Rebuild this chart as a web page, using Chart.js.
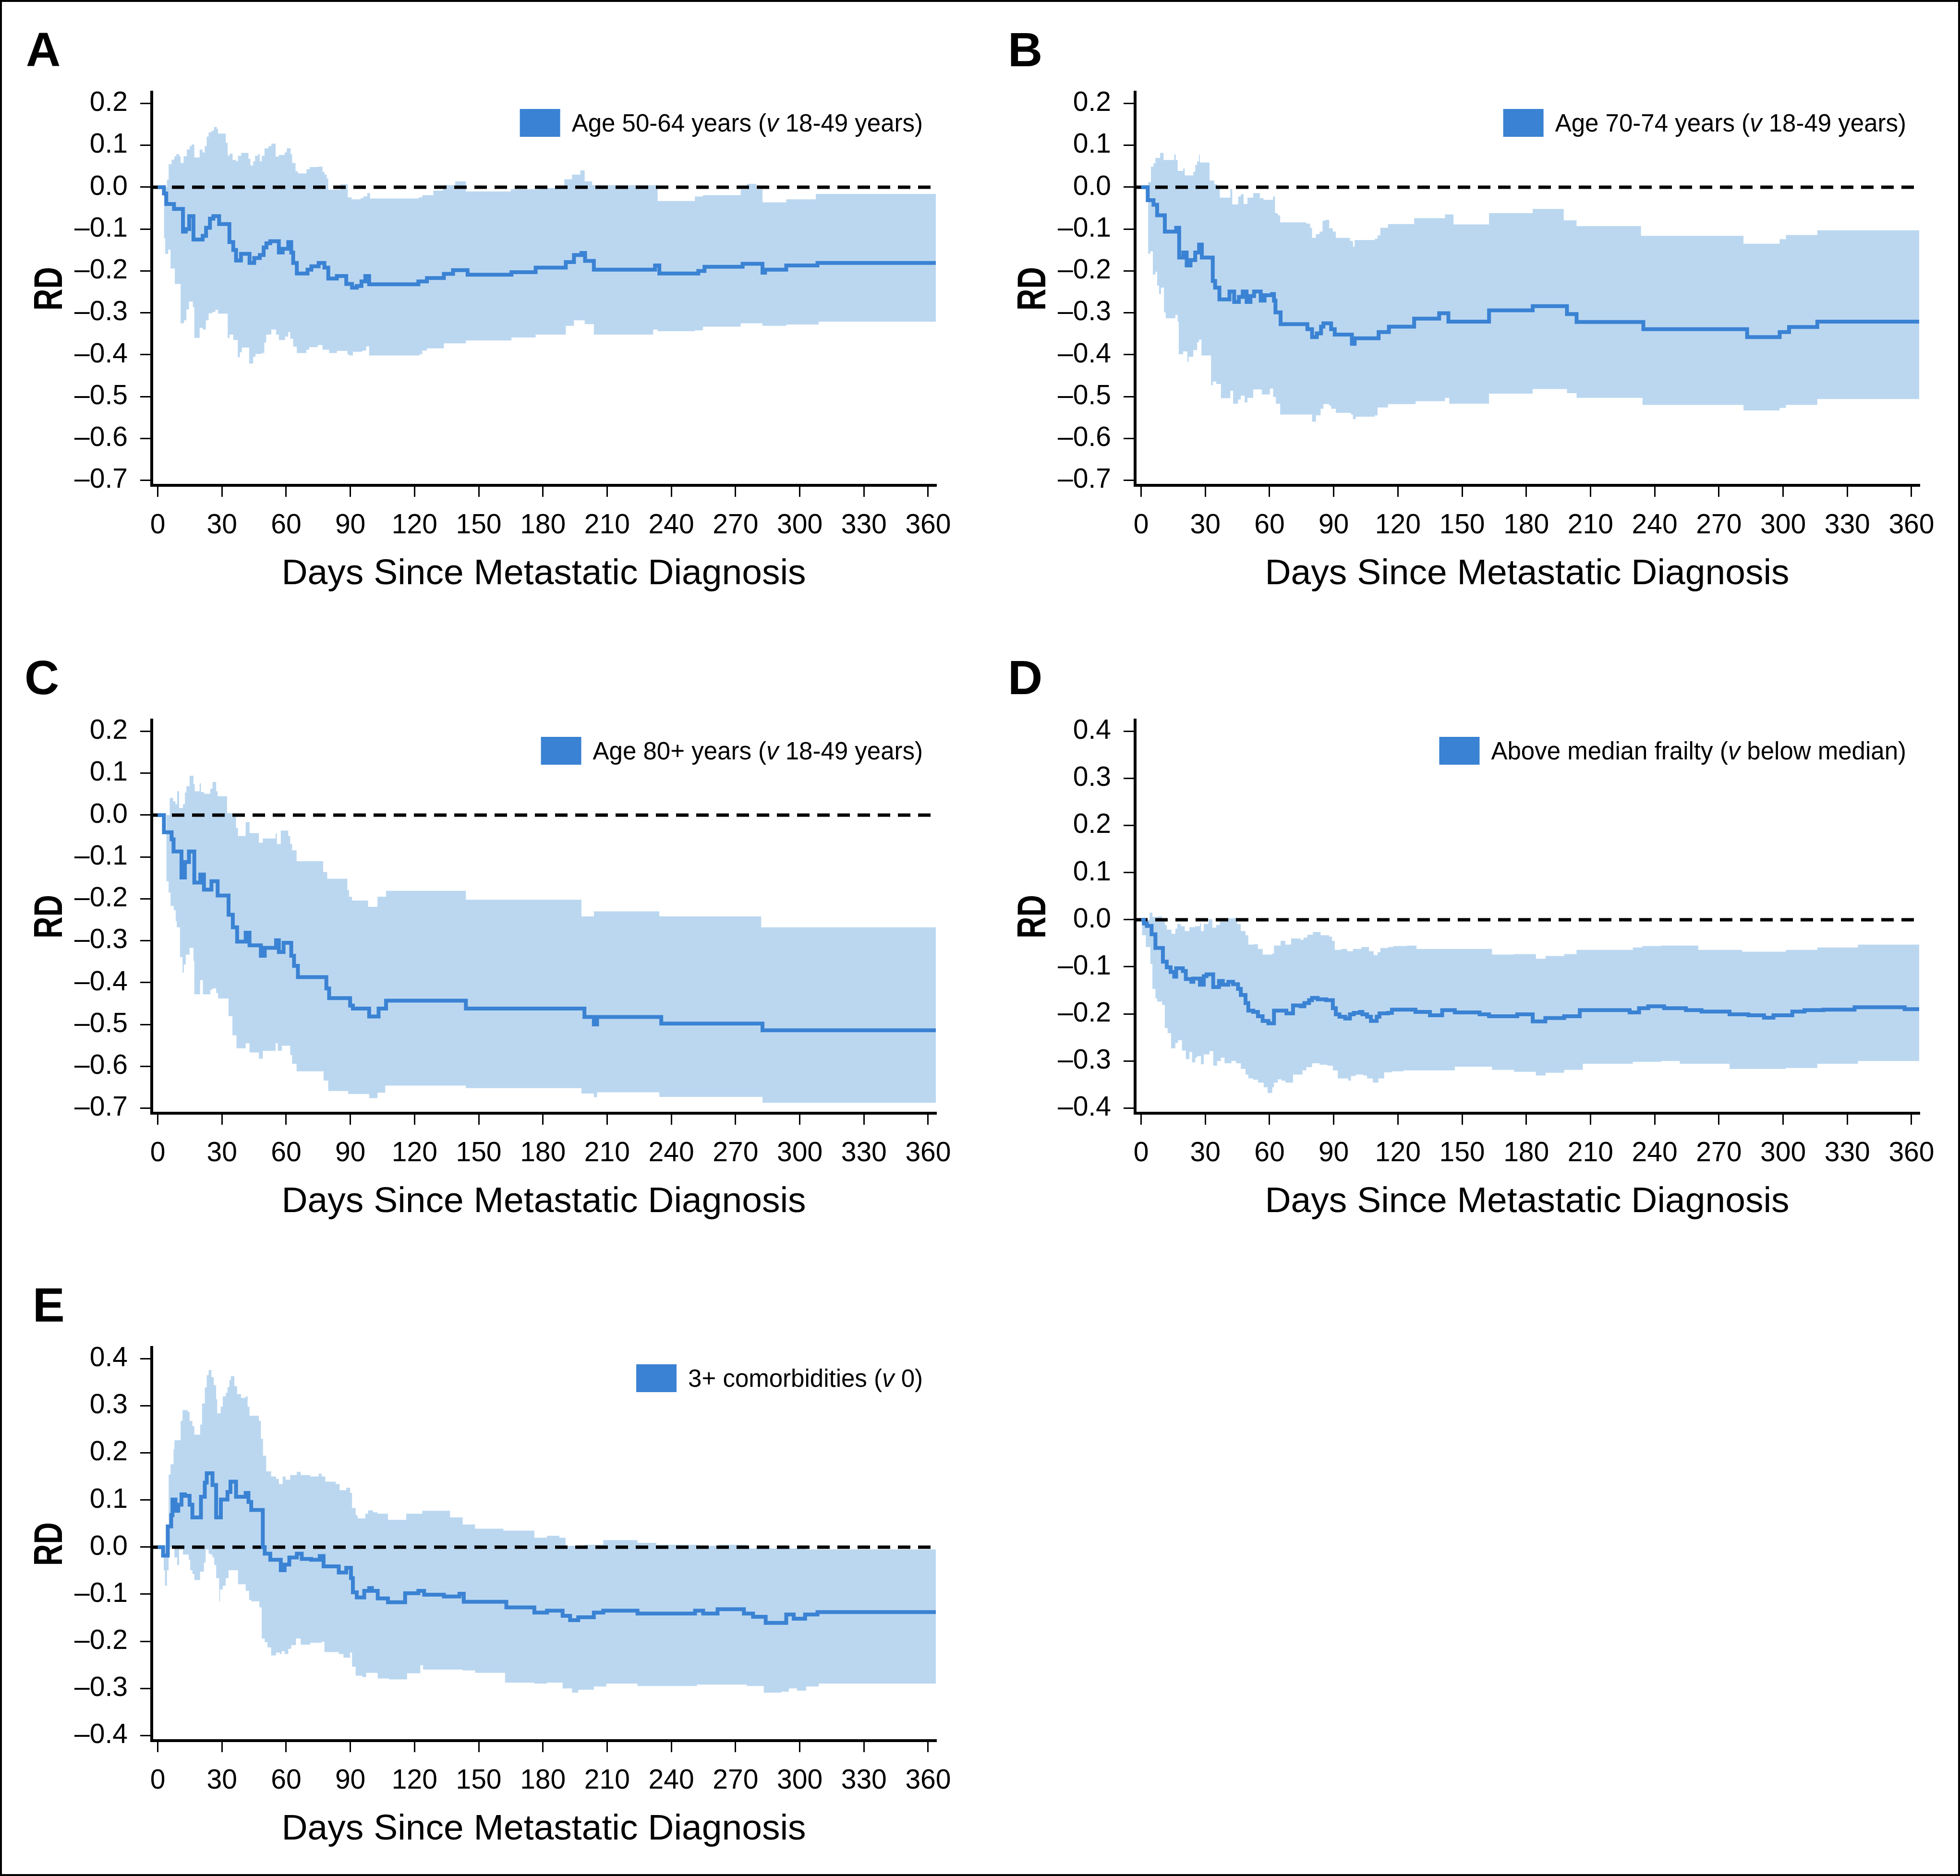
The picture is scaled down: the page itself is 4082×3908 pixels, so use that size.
<!DOCTYPE html>
<html>
<head>
<meta charset="utf-8">
<title>Risk difference over time</title>
<script src="https://cdn.jsdelivr.net/npm/chart.js@4.4.1/dist/chart.umd.min.js"></script>
<style>
html, body { margin: 0; padding: 0; background: #fff; }
#page { position: relative; width: 4082px; height: 3908px; overflow: hidden; background: #fff; }
#page canvas { position: absolute; }
#frame { position: absolute; left: 0; top: 0; width: 4082px; height: 3908px; box-sizing: border-box; border: 4px solid #000; pointer-events: none; }
</style>
</head>
<body>
<div id="page"><div id="frame"></div></div>
<script>
// axis ticks
const xTicks = [0, 30, 60, 90, 120, 150, 180, 210, 240, 270, 300, 330, 360];
const yTicksAge = [-0.7, -0.6, -0.5, -0.4, -0.3, -0.2, -0.1, 0, 0.1, 0.2];
const yTicksWide = [-0.4, -0.3, -0.2, -0.1, 0, 0.1, 0.2, 0.3, 0.4];

const legendA = "Age 50-64 years (v 18-49 years)";
const legendB = "Age 70-74 years (v 18-49 years)";
const legendC = "Age 80+ years (v 18-49 years)";
const legendD = "Above median frailty (v below median)";
const legendE = "3+ comorbidities (v 0)";

// [day, RD] - value holds from that day until the next step
const estA = [[0,0],[2.9,-0.015],[4,-0.04],[7.6,-0.052],[11.8,-0.106],[13.1,-0.1],[14.7,-0.069],[16.7,-0.125],[21,-0.116],[22.6,-0.097],[24.4,-0.075],[26,-0.069],[28.7,-0.088],[33.5,-0.131],[35.3,-0.15],[36.6,-0.175],[38.9,-0.159],[42.9,-0.181],[45.1,-0.169],[47.7,-0.162],[49.5,-0.144],[50.8,-0.134],[52.6,-0.129],[56.6,-0.156],[58.4,-0.147],[61,-0.131],[62.4,-0.156],[63.3,-0.181],[65,-0.206],[70,-0.197],[71.8,-0.189],[75.2,-0.181],[77.9,-0.192],[79.7,-0.218],[83.7,-0.212],[88.1,-0.231],[90.8,-0.24],[93,-0.236],[95.2,-0.225],[97,-0.212],[98.8,-0.232],[121.8,-0.225],[125.8,-0.217],[133.7,-0.207],[138,-0.198],[144.8,-0.209],[165.3,-0.203],[176.6,-0.192],[190.7,-0.179],[194.5,-0.162],[198,-0.157],[199.7,-0.176],[203.8,-0.197],[232.4,-0.187],[234.4,-0.206],[252.6,-0.2],[255.5,-0.19],[273.3,-0.183],[282.6,-0.204],[283.8,-0.197],[293.7,-0.187],[308.3,-0.181],[363.6,-0.181]];
const upA = [[2.9,0],[4.3,0.018],[5.1,0.055],[6.5,0.066],[7.8,0.074],[8.7,0.079],[10,0.074],[10.7,0.058],[12.1,0.074],[13.6,0.09],[14.9,0.098],[15.8,0.102],[17.1,0.071],[19.6,0.09],[20.9,0.083],[22,0.098],[22.9,0.121],[23.8,0.131],[25.1,0.135],[26.3,0.144],[27.6,0.139],[28.2,0.128],[31.8,0.106],[32.7,0.075],[33.5,0.08],[35,0.065],[36.6,0.062],[37.5,0.075],[39,0.082],[42.4,0.068],[43.3,0.052],[44.6,0.062],[45.5,0.075],[46.9,0.079],[47.7,0.062],[48.6,0.075],[49.9,0.093],[51.7,0.098],[53.1,0.104],[55.1,0.073],[56.6,0.077],[59.3,0.083],[60.3,0.093],[62.1,0.079],[62.8,0.058],[64.4,0.038],[65.5,0.033],[69.5,0.043],[71,0.048],[74.8,0.049],[77,0.037],[77.9,0.03],[79,0.021],[79.7,-0.006],[85.4,0.007],[88.8,-0.024],[90.6,-0.029],[94.8,-0.026],[96.1,-0.022],[97.9,-0.014],[99.2,-0.027],[122,-0.024],[123.6,-0.019],[128.8,-0.008],[133.3,0.005],[139,0.014],[144,-0.01],[165,-0.005],[178.5,-0.002],[190,0.019],[193.6,0.03],[197.5,0.04],[199.5,0.014],[203,0.005],[233.6,-0.033],[251,-0.022],[254.8,-0.019],[272.4,-0.005],[275.3,0.008],[279.7,-0.005],[282.6,-0.036],[293.7,-0.029],[307.5,-0.016],[363.6,-0.016]];
const loA = [[2.2,-0.122],[3.5,-0.159],[4.9,-0.149],[6,-0.194],[8,-0.231],[10.7,-0.325],[12.3,-0.318],[13.4,-0.292],[14.6,-0.273],[16.4,-0.286],[17.1,-0.36],[19.6,-0.336],[21.1,-0.34],[22.5,-0.318],[23.8,-0.301],[25.6,-0.298],[26.9,-0.293],[28.2,-0.302],[32.7,-0.36],[33.5,-0.352],[35.3,-0.365],[37.4,-0.406],[38.4,-0.394],[39.3,-0.383],[42.7,-0.421],[44.6,-0.405],[45.7,-0.398],[48.6,-0.396],[49.8,-0.371],[50.7,-0.352],[53.1,-0.34],[55.3,-0.352],[56.6,-0.365],[59.5,-0.357],[61,-0.346],[61.9,-0.362],[63.3,-0.381],[65,-0.396],[69.5,-0.388],[70.8,-0.382],[74.8,-0.377],[77,-0.388],[80.1,-0.396],[83.7,-0.391],[88.6,-0.399],[89.4,-0.402],[91.2,-0.393],[95.6,-0.39],[97.4,-0.38],[98.8,-0.402],[122.3,-0.399],[123.6,-0.39],[125.8,-0.385],[133.7,-0.373],[144,-0.366],[165.3,-0.359],[176.6,-0.352],[190.7,-0.331],[194.5,-0.318],[199.5,-0.327],[203.8,-0.352],[231.5,-0.34],[233.6,-0.344],[251,-0.342],[254.8,-0.333],[272.4,-0.325],[282.6,-0.331],[293.7,-0.328],[308.9,-0.321],[363.6,-0.321]];

const estB = [[0,0],[3.1,-0.031],[5.8,-0.042],[7.5,-0.067],[11.1,-0.106],[16.4,-0.097],[17.8,-0.168],[19.7,-0.156],[21.3,-0.187],[23.1,-0.174],[25.3,-0.156],[27.1,-0.137],[28.4,-0.168],[33.5,-0.224],[34.6,-0.24],[36.6,-0.268],[41.3,-0.249],[43.5,-0.274],[45.7,-0.262],[47.5,-0.249],[49.3,-0.274],[51.1,-0.26],[52.8,-0.249],[55.9,-0.271],[57.7,-0.258],[61.2,-0.255],[62.1,-0.271],[62.8,-0.299],[65.2,-0.327],[77.7,-0.339],[79.9,-0.358],[82.1,-0.349],[84.1,-0.333],[85.2,-0.325],[88.8,-0.339],[90.5,-0.352],[98.5,-0.374],[99.8,-0.361],[111,-0.346],[115.8,-0.333],[127.6,-0.314],[139.3,-0.301],[143.6,-0.321],[162.6,-0.294],[183,-0.284],[199,-0.303],[203.5,-0.322],[234.7,-0.339],[283.2,-0.358],[298.4,-0.346],[302.8,-0.334],[316,-0.321],[363.6,-0.321]];
const upB = [[3.1,0.012],[4.6,0.049],[5.8,0.057],[6.7,0.07],[8.9,0.082],[10.5,0.065],[15.5,0.078],[16.2,0.065],[17.1,0.039],[19.7,0.045],[20.4,0.028],[24.4,0.037],[25.3,0.053],[26.2,0.062],[27.1,0.078],[27.5,0.059],[32,0.016],[34.2,0.007],[35.5,0],[36.8,-0.025],[41.7,-0.005],[42.6,-0.041],[45.4,-0.022],[46.6,-0.017],[47.9,-0.04],[49.7,-0.025],[52.4,-0.014],[55.5,-0.026],[57.2,-0.03],[61.7,-0.022],[62.6,-0.062],[63.9,-0.067],[65,-0.084],[77.2,-0.087],[79,-0.097],[79.9,-0.121],[81.7,-0.112],[83.4,-0.106],[84.8,-0.08],[86.1,-0.078],[87.9,-0.098],[89.6,-0.106],[91,-0.121],[97.6,-0.128],[99,-0.142],[99.8,-0.126],[109.2,-0.123],[110.5,-0.115],[111.8,-0.097],[115.4,-0.088],[127.6,-0.074],[142,-0.065],[146,-0.089],[162.6,-0.062],[183,-0.052],[197.5,-0.079],[203.5,-0.093],[233.6,-0.116],[281.5,-0.135],[298.4,-0.124],[301.3,-0.114],[316,-0.103],[363.6,-0.103]];
const loB = [[3.3,-0.159],[4.3,-0.153],[5.5,-0.209],[6.7,-0.202],[7.5,-0.235],[8.4,-0.255],[9.3,-0.24],[10.7,-0.299],[11.5,-0.313],[16,-0.305],[17.1,-0.321],[17.6,-0.399],[19.6,-0.392],[21.6,-0.417],[22.2,-0.405],[24.4,-0.389],[26.2,-0.37],[27.1,-0.364],[28.2,-0.402],[32.7,-0.473],[33.5,-0.464],[35.1,-0.47],[37.3,-0.504],[41.7,-0.486],[43,-0.517],[45.3,-0.507],[46.6,-0.498],[48.4,-0.514],[49.7,-0.503],[52.4,-0.483],[56.4,-0.495],[60.2,-0.481],[61.7,-0.501],[63,-0.517],[65,-0.543],[79.9,-0.56],[81.7,-0.545],[83.9,-0.529],[85.2,-0.518],[87.9,-0.522],[88.8,-0.529],[91,-0.539],[98.1,-0.543],[99,-0.554],[100.3,-0.548],[109.2,-0.545],[110.5,-0.526],[115.4,-0.518],[128.3,-0.511],[142,-0.503],[144,-0.517],[162.6,-0.493],[183,-0.482],[199,-0.492],[203.5,-0.503],[234.3,-0.52],[281.5,-0.533],[298.4,-0.527],[301.3,-0.52],[316,-0.506],[363.6,-0.506]];

const estC = [[0,0],[2.9,-0.041],[6.5,-0.058],[7.4,-0.087],[11.1,-0.149],[12.7,-0.112],[14.6,-0.087],[17.1,-0.161],[19.9,-0.142],[21.6,-0.178],[25.1,-0.158],[28,-0.192],[33.1,-0.238],[35.1,-0.268],[37.1,-0.302],[41.1,-0.281],[42.9,-0.311],[48.2,-0.336],[50,-0.317],[55.3,-0.299],[56.6,-0.327],[58.8,-0.305],[62.4,-0.336],[63.7,-0.36],[65.5,-0.387],[78.8,-0.414],[80.1,-0.437],[89.9,-0.455],[91.2,-0.462],[98.8,-0.481],[103.2,-0.462],[106.7,-0.443],[144,-0.462],[199.4,-0.482],[203.8,-0.5],[205.3,-0.482],[235.3,-0.498],[282.6,-0.514],[363.6,-0.514]];
const upC = [[4,0],[5.6,0.041],[7.2,0.033],[8.3,0.026],[9.1,0.057],[10,0.017],[11.8,0.026],[12.7,0.054],[13.4,0.069],[14.9,0.094],[16.7,0.074],[17.3,0.057],[19.6,0.076],[20.2,0.055],[21.6,0.051],[24.6,0.063],[25.6,0.079],[27.3,0.057],[28,0.045],[32.4,0.005],[34.9,-0.004],[36.6,-0.031],[37.5,-0.05],[41.1,-0.017],[42.9,-0.043],[47.3,-0.066],[49.1,-0.056],[55.1,-0.044],[55.7,-0.069],[57.5,-0.037],[61,-0.05],[61.9,-0.069],[62.8,-0.084],[64.9,-0.11],[77.3,-0.136],[79.2,-0.152],[88.6,-0.179],[89.4,-0.195],[90.8,-0.204],[98.3,-0.219],[102.7,-0.195],[106.7,-0.181],[144,-0.202],[198,-0.242],[203.8,-0.23],[234.4,-0.242],[282,-0.268],[363.6,-0.268]];
const loC = [[4,-0.158],[5.1,-0.185],[6,-0.217],[7.5,-0.227],[8.4,-0.253],[8.9,-0.268],[10.4,-0.339],[11.6,-0.376],[12.2,-0.357],[13.1,-0.333],[14.9,-0.317],[16.7,-0.348],[17.1,-0.428],[19.8,-0.394],[21.1,-0.428],[24.6,-0.417],[25.6,-0.414],[27.3,-0.425],[28.2,-0.438],[33.1,-0.48],[34.9,-0.526],[36.8,-0.557],[41.1,-0.545],[42.9,-0.567],[47.3,-0.582],[49.1,-0.563],[55.1,-0.545],[56.1,-0.563],[58,-0.551],[61.9,-0.573],[62.8,-0.594],[64.9,-0.612],[77.5,-0.634],[79.7,-0.659],[89,-0.666],[98.8,-0.676],[102.7,-0.663],[106.3,-0.646],[144,-0.652],[198,-0.665],[203.8,-0.674],[205.3,-0.662],[234.4,-0.673],[282.6,-0.687],[363.6,-0.687]];

const estD = [[0,0],[1.3,-0.008],[2.7,-0.013],[4.9,-0.031],[6.7,-0.06],[10.2,-0.089],[12,-0.101],[13.8,-0.111],[15.5,-0.121],[16.4,-0.103],[19.5,-0.109],[20.9,-0.126],[23.5,-0.132],[24.4,-0.125],[27.5,-0.138],[29.3,-0.12],[30.6,-0.116],[33.7,-0.143],[36.4,-0.13],[38.2,-0.138],[40.8,-0.132],[43,-0.137],[45.3,-0.147],[46.6,-0.16],[48.8,-0.177],[50.1,-0.193],[52.4,-0.196],[54.6,-0.205],[56.8,-0.215],[59.5,-0.22],[62.1,-0.193],[67.9,-0.199],[71,-0.182],[74.5,-0.184],[76.3,-0.177],[78.5,-0.171],[79.9,-0.166],[82.5,-0.169],[86.5,-0.171],[89.6,-0.188],[91,-0.201],[92.7,-0.206],[95.4,-0.21],[97.6,-0.201],[99.4,-0.198],[102.3,-0.196],[103.4,-0.201],[105.6,-0.206],[107.4,-0.215],[110.1,-0.206],[111.4,-0.199],[115.4,-0.198],[117.2,-0.191],[128.2,-0.196],[135,-0.203],[140.7,-0.192],[146.6,-0.197],[158.2,-0.201],[162.6,-0.205],[175.8,-0.201],[183,-0.216],[188.9,-0.209],[197.7,-0.205],[205,-0.192],[228.3,-0.197],[232.7,-0.188],[237,-0.184],[244.4,-0.188],[254.6,-0.192],[261.9,-0.195],[275,-0.201],[283.8,-0.203],[291.1,-0.208],[295.5,-0.203],[304.3,-0.195],[310,-0.192],[318.8,-0.191],[333.4,-0.186],[356.8,-0.19],[363.6,-0.19]];
const upD = [[0.4,0],[4,0.015],[5.3,0.006],[8,0.007],[9.8,-0.002],[11.1,-0.011],[12,-0.021],[14.2,-0.03],[16,-0.019],[16.9,-0.009],[18.6,-0.014],[20.4,-0.024],[22.6,-0.016],[25.3,-0.014],[27.5,-0.007],[28,-0.024],[29.3,-0.009],[31.5,0.001],[33.3,-0.017],[35.1,-0.011],[36.8,-0.004],[40.4,0.003],[43.5,0.004],[44.8,-0.009],[46.6,-0.024],[48.8,-0.033],[50.1,-0.053],[52.4,-0.052],[54.6,-0.062],[56.8,-0.074],[61.2,-0.072],[62.1,-0.055],[65.2,-0.045],[67.4,-0.053],[70.1,-0.04],[74.5,-0.043],[75.9,-0.038],[77.7,-0.032],[80.3,-0.026],[83.9,-0.033],[87.9,-0.036],[89.2,-0.045],[90.5,-0.064],[93.6,-0.062],[96.3,-0.067],[99,-0.062],[103,-0.058],[106.5,-0.067],[108.7,-0.075],[110.5,-0.069],[111.8,-0.06],[115.4,-0.058],[118,-0.056],[124.3,-0.055],[128.7,-0.062],[164,-0.074],[174.3,-0.073],[184.5,-0.083],[189,-0.077],[197.7,-0.073],[203.5,-0.064],[229.8,-0.059],[234.2,-0.056],[243,-0.055],[260.4,-0.064],[280.9,-0.068],[301.3,-0.064],[316,-0.059],[335,-0.053],[363.6,-0.056]];
const loD = [[0.4,-0.033],[2.2,-0.058],[4.3,-0.094],[5.3,-0.147],[6.7,-0.167],[7.5,-0.174],[9.8,-0.181],[11.1,-0.23],[12.4,-0.241],[14,-0.273],[16,-0.262],[17.3,-0.256],[19.1,-0.278],[20.9,-0.296],[22.6,-0.281],[23.8,-0.303],[25.3,-0.293],[26.2,-0.29],[28,-0.307],[29.3,-0.286],[32,-0.279],[33.7,-0.31],[35.5,-0.3],[37.3,-0.293],[39,-0.305],[42.2,-0.3],[44.4,-0.305],[46.6,-0.317],[48.8,-0.329],[50.1,-0.337],[52.4,-0.34],[54.6,-0.346],[57.3,-0.356],[59.1,-0.368],[61.3,-0.356],[62.1,-0.346],[63.9,-0.339],[65.7,-0.342],[67.4,-0.346],[71,-0.329],[75.4,-0.32],[77.2,-0.313],[79.9,-0.305],[83.4,-0.308],[87,-0.31],[89.6,-0.32],[91.9,-0.337],[96.8,-0.342],[98.1,-0.332],[100.3,-0.329],[103.9,-0.331],[105.6,-0.337],[108.3,-0.346],[110.9,-0.337],[113.6,-0.324],[117.2,-0.322],[122.6,-0.32],[146.6,-0.312],[164,-0.319],[174.3,-0.323],[184.5,-0.331],[189,-0.325],[197.7,-0.319],[206.4,-0.306],[229.8,-0.302],[243,-0.3],[251.7,-0.306],[275,-0.317],[301.3,-0.315],[316,-0.306],[335,-0.3],[363.6,-0.302]];

const estE = [[0,0],[2.5,-0.018],[4.7,0.044],[6.3,0.068],[6.9,0.101],[8.3,0.077],[9.6,0.09],[11.1,0.112],[12.7,0.109],[14.9,0.09],[16.2,0.063],[20.2,0.107],[22,0.137],[22.9,0.157],[25.6,0.132],[27.3,0.063],[29.5,0.101],[32.6,0.117],[34,0.139],[36.6,0.107],[41.1,0.115],[42.4,0.096],[43.7,0.079],[49.1,0],[50,-0.014],[52.6,-0.027],[57.5,-0.049],[59.3,-0.037],[61.5,-0.022],[65,-0.014],[67.3,-0.025],[71.7,-0.027],[75.7,-0.019],[77.5,-0.041],[84.6,-0.054],[88.1,-0.044],[90.3,-0.066],[91.2,-0.096],[93,-0.107],[96.5,-0.093],[98.8,-0.087],[100.1,-0.093],[102.8,-0.109],[107.6,-0.117],[115.6,-0.098],[121.8,-0.093],[124.5,-0.101],[133.7,-0.105],[141,-0.099],[143,-0.116],[162.9,-0.128],[176,-0.139],[181.9,-0.135],[189.2,-0.146],[192.7,-0.155],[196.5,-0.149],[203.8,-0.139],[208.2,-0.135],[224.2,-0.141],[251.1,-0.135],[254.9,-0.141],[261.6,-0.132],[273.9,-0.141],[278.2,-0.148],[284.1,-0.161],[293.7,-0.143],[297.2,-0.152],[302.5,-0.143],[308.3,-0.138],[363.6,-0.138]];
const upE = [[2,0.003],[3.8,0.045],[5.1,0.154],[6,0.176],[7.4,0.208],[7.8,0.227],[10.7,0.268],[11.6,0.291],[14,0.287],[14.9,0.268],[16.2,0.257],[17.1,0.239],[19.8,0.26],[20.7,0.305],[22,0.339],[22.9,0.365],[23.8,0.376],[25.1,0.361],[26.2,0.344],[27.3,0.314],[27.8,0.284],[29.4,0.298],[30.4,0.32],[31.8,0.328],[32.6,0.34],[33.5,0.355],[34.2,0.363],[35.8,0.342],[37.1,0.325],[38.9,0.317],[41.1,0.32],[42,0.298],[42.9,0.279],[47.3,0.268],[48.2,0.23],[49.2,0.194],[50.7,0.161],[53,0.15],[55.3,0.145],[56.6,0.134],[58.4,0.15],[59.7,0.143],[61.9,0.153],[65,0.16],[66.8,0.153],[71.3,0.15],[75.2,0.156],[76.6,0.15],[78.3,0.139],[83.2,0.134],[85,0.121],[88.1,0.126],[89.9,0.115],[90.8,0.083],[92.5,0.068],[93.4,0.061],[97,0.071],[98.3,0.078],[100.5,0.074],[102.7,0.071],[107.6,0.058],[116.1,0.071],[123.6,0.077],[136.6,0.063],[142.5,0.048],[148.3,0.039],[161.5,0.035],[176,0.02],[181.9,0.024],[187.7,0.02],[190.6,0.003],[199.4,0.005],[208.2,0.015],[224.2,0.009],[233,0.005],[252,0.003],[262.2,0.005],[275.3,-0.003],[303,-0.005],[363.6,-0.005]];
const loE = [[2,-0.022],[2.8,-0.049],[3.4,-0.082],[4.3,-0.049],[5.1,-0.005],[6,0],[7.8,-0.022],[9.1,-0.038],[10,-0.005],[11.8,-0.016],[14.5,-0.027],[15.2,-0.049],[16.2,-0.057],[17.1,-0.07],[19.8,-0.052],[21.6,-0.033],[22.4,-0.005],[23.8,-0.014],[24.7,-0.016],[25.6,-0.022],[26.4,-0.038],[27.3,-0.066],[28.7,-0.115],[29.1,-0.09],[30.4,-0.082],[31.8,-0.066],[33.1,-0.049],[35.8,-0.049],[37.5,-0.079],[41.1,-0.093],[42.7,-0.112],[43.7,-0.115],[47.5,-0.128],[48.6,-0.194],[50,-0.202],[51.3,-0.213],[53,-0.23],[55.3,-0.224],[57,-0.227],[57.9,-0.221],[59.3,-0.227],[61,-0.216],[62.4,-0.208],[64.6,-0.194],[66.8,-0.207],[71.3,-0.203],[76.6,-0.201],[77.9,-0.223],[84.6,-0.227],[86.8,-0.235],[89.9,-0.224],[90.8,-0.254],[92.5,-0.273],[95.6,-0.276],[97.4,-0.267],[102.8,-0.279],[108.1,-0.281],[116.5,-0.268],[122.7,-0.251],[124,-0.26],[142.5,-0.262],[148.3,-0.267],[162.3,-0.288],[176,-0.29],[181.9,-0.288],[189.2,-0.3],[193.6,-0.309],[196.5,-0.303],[203.8,-0.296],[209.6,-0.29],[224.2,-0.295],[252,-0.292],[275.3,-0.295],[283.2,-0.309],[291.4,-0.307],[294.9,-0.3],[298.7,-0.305],[303,-0.296],[308.9,-0.29],[363.6,-0.29]];

const LINE_BLUE = "#3a82d3";
const BAND_BLUE = "#bbd7f0";
const FONT = '"Liberation Sans", Arial, Helvetica, sans-serif';
const X_MIN = -2.8, X_MAX = 363.6;
const PLOT_W = 1633, PLOT_H = 819, X_AXIS_H = 250;

const panels = [
  {letter: "A", est: estA, up: upA, lo: loA, legend: legendA, yTicks: yTicksAge, yMin: -0.712, yMax: 0.227, left: 0, top: 0, height: 1300, plotLeft: 316, plotTop: 192, letterX: 54},
  {letter: "B", est: estB, up: upB, lo: loB, legend: legendB, yTicks: yTicksAge, yMin: -0.712, yMax: 0.227, left: 2041, top: 0, height: 1300, plotLeft: 323, plotTop: 192, letterX: 58},
  {letter: "C", est: estC, up: upC, lo: loC, legend: legendC, yTicks: yTicksAge, yMin: -0.712, yMax: 0.227, left: 0, top: 1300, height: 1300, plotLeft: 316, plotTop: 200, letterX: 51},
  {letter: "D", est: estD, up: upD, lo: loD, legend: legendD, yTicks: yTicksWide, yMin: -0.411, yMax: 0.424, left: 2041, top: 1300, height: 1300, plotLeft: 323, plotTop: 200, letterX: 58},
  {letter: "E", est: estE, up: upE, lo: loE, legend: legendE, yTicks: yTicksWide, yMin: -0.411, yMax: 0.424, left: 0, top: 2600, height: 1308, plotLeft: 316, plotTop: 207, letterX: 68}
];

function toPoints(arr) {
  return arr.map(p => ({x: p[0], y: p[1]}));
}

function fmtY(v) {
  const s = Math.abs(v).toFixed(1);
  return v < -1e-9 ? "\u2013" + s : s;
}

// zero reference line, panel letter, y title and legend
const decor = {
  id: "decor",
  beforeDatasetDraw(chart, args, opts) {
    if (args.index !== 2) return;
    const a = chart.chartArea;
    const py = chart.scales.y.getPixelForValue(0);
    const ctx = chart.ctx;
    ctx.save();
    ctx.strokeStyle = "#000";
    ctx.lineWidth = 7;
    ctx.setLineDash([26, 16]);
    ctx.beginPath();
    ctx.moveTo(a.left, py);
    ctx.lineTo(a.right, py);
    ctx.stroke();
    ctx.restore();
  },
  afterDraw(chart, args, opts) {
    const a = chart.chartArea;
    const ctx = chart.ctx;
    ctx.save();
    ctx.fillStyle = "#000";
    ctx.textAlign = "left";
    ctx.textBaseline = "alphabetic";
    ctx.font = "bold 100px " + FONT;
    ctx.fillText(opts.letter, opts.letterX, a.top - 54);

    // condensed bold "RD", reading upward
    ctx.save();
    ctx.translate(a.left - 217, (a.top + a.bottom) / 2);
    ctx.rotate(-Math.PI / 2);
    ctx.scale(0.75, 1);
    ctx.textAlign = "center";
    ctx.font = "bold 84px " + FONT;
    ctx.fillText("RD", 0, 30);
    ctx.restore();

    const plain = "51px " + FONT;
    const ital = "italic 51px " + FONT;
    const bits = opts.legend.split("(v");
    const parts = [[bits[0] + "(", plain], ["v", ital], [bits[1], plain]];
    let total = 0;
    parts.forEach(p => { ctx.font = p[1]; p.push(ctx.measureText(p[0]).width); total += p[2]; });
    let x = a.right - 27 - total;
    ctx.fillStyle = LINE_BLUE;
    ctx.fillRect(x - 24 - 84, a.top + 35, 84, 58);
    ctx.fillStyle = "#000";
    parts.forEach(p => {
      ctx.font = p[1];
      ctx.fillText(p[0], x, a.top + 82);
      x += p[2];
    });
    ctx.restore();
  }
};

const page = document.getElementById("page");

panels.forEach(p => {
  const canvas = document.createElement("canvas");
  canvas.width = 2041;
  canvas.height = p.height;
  canvas.style.left = p.left + "px";
  canvas.style.top = p.top + "px";
  canvas.style.width = "2041px";
  canvas.style.height = p.height + "px";
  page.insertBefore(canvas, document.getElementById("frame"));

  new Chart(canvas, {
    type: "line",
    data: {
      datasets: [
        {data: toPoints(p.up), stepped: true, borderWidth: 0, borderColor: "rgba(0,0,0,0)", backgroundColor: BAND_BLUE, pointRadius: 0, fill: "+1", order: 2},
        {data: toPoints(p.lo), stepped: true, borderWidth: 0, borderColor: "rgba(0,0,0,0)", backgroundColor: BAND_BLUE, pointRadius: 0, fill: false, order: 1},
        {data: toPoints(p.est), stepped: true, borderWidth: 8, borderColor: LINE_BLUE, borderJoinStyle: "miter", pointRadius: 0, fill: false, order: 0}
      ]
    },
    options: {
      responsive: false,
      animation: false,
      events: [],
      layout: {
        padding: {left: 0, top: p.plotTop, right: 2041 - p.plotLeft - PLOT_W, bottom: p.height - p.plotTop - PLOT_H - X_AXIS_H}
      },
      plugins: {
        legend: {display: false},
        tooltip: {enabled: false},
        decor: {letter: p.letter, letterX: p.letterX, legend: p.legend}
      },
      scales: {
        x: {
          type: "linear",
          position: "bottom",
          min: X_MIN,
          max: X_MAX,
          afterBuildTicks: s => { s.ticks = xTicks.map(v => ({value: v})); },
          afterFit: s => { s.height = X_AXIS_H; },
          grid: {display: true, drawOnChartArea: false, drawTicks: true, tickLength: 24, lineWidth: 3, color: "#000"},
          border: {display: true, width: 6, color: "#000"},
          ticks: {color: "#000", font: {family: FONT, size: 57}, padding: 26, maxRotation: 0, autoSkip: false, callback: v => String(v)},
          title: {display: true, text: "Days Since Metastatic Diagnosis", color: "#000", font: {family: FONT, size: 75}, padding: {top: 0, bottom: 20}}
        },
        y: {
          position: "left",
          min: p.yMin,
          max: p.yMax,
          afterBuildTicks: s => { s.ticks = p.yTicks.map(v => ({value: v})); },
          afterFit: s => { s.width = p.plotLeft; },
          grid: {display: true, drawOnChartArea: false, drawTicks: true, tickLength: 24, lineWidth: 3, color: "#000"},
          border: {display: true, width: 6, color: "#000"},
          ticks: {color: "#000", font: {family: FONT, size: 57}, padding: 26, autoSkip: false, callback: v => fmtY(v)},
          title: {display: false}
        }
      }
    },
    plugins: [decor]
  });
});
</script>
</body>
</html>
